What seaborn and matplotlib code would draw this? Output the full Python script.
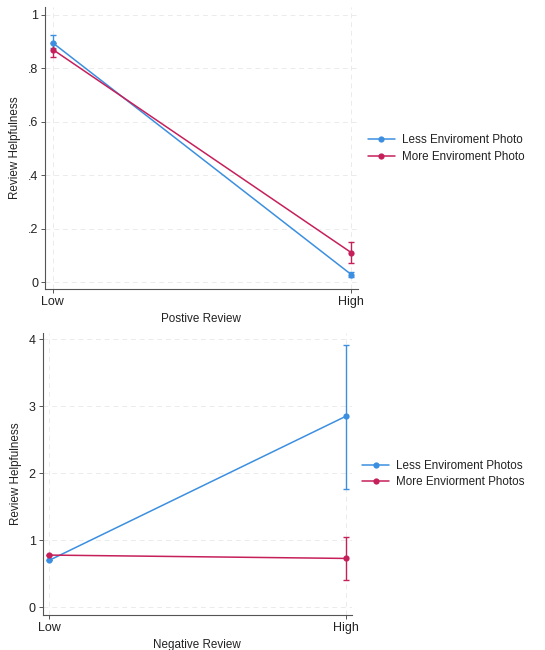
import matplotlib
matplotlib.use("Agg")
import matplotlib.pyplot as plt
import seaborn as sns
import pandas as pd
import numpy as np

# ---- data ----
levels = ["Low", "High"]
top_groups = ["Less Enviroment Photo", "More Enviroment Photo"]
top_less = [0.895, 0.028]
top_less_lo = [0.875, 0.020]
top_less_hi = [0.924, 0.036]
top_more = [0.870, 0.110]
top_more_lo = [0.842, 0.070]
top_more_hi = [0.895, 0.150]

bot_groups = ["Less Enviroment Photos", "More Enviorment Photos"]
bot_less = [0.70, 2.85]
bot_less_lo = [0.70, 1.77]
bot_less_hi = [0.70, 3.92]
bot_more = [0.78, 0.73]
bot_more_lo = [0.78, 0.41]
bot_more_hi = [0.78, 1.05]

top_yticks = [0, 0.2, 0.4, 0.6, 0.8, 1.0]
top_yticklabels = ["0", ".2", ".4", ".6", ".8", "1"]
bot_yticks = [0, 1, 2, 3, 4]
bot_yticklabels = ["0", "1", "2", "3", "4"]

BLUE = "#3c8fe0"
RED = "#c6205b"

sns.set_theme(style="white")
plt.rcParams['font.family'] = ['Liberation Sans', 'DejaVu Sans']

fig = plt.figure(figsize=(5.45, 6.5), dpi=100)
ax1 = fig.add_axes([0.0826, 0.5554, 0.574, 0.4338])
ax2 = fig.add_axes([0.078, 0.0543, 0.567, 0.4329])

TICK_FS = 9.0
LAB_FS = 8.4


def draw(ax, groups, series, los, his, yticks, yticklabels, ylim, xlim, xlabel, legend_anchor):
    xs = np.arange(len(levels))
    rows = []
    for g, vals in zip(groups, series):
        for x, v in zip(xs, vals):
            rows.append({"x": x, "y": v, "group": g})
    df = pd.DataFrame(rows)
    sns.lineplot(data=df, x="x", y="y", hue="group", palette=[BLUE, RED],
                 marker="o", markersize=4.5, markeredgewidth=0, linewidth=1.1,
                 ax=ax, legend=True, errorbar=None)
    for col, vals, lo, hi in zip([BLUE, RED], series, los, his):
        v = np.array(vals); l = np.array(lo); h = np.array(hi)
        ax.errorbar(xs, v, yerr=[v - l, h - v], fmt="none", ecolor=col,
                    elinewidth=1.0, capsize=2, capthick=1.0, zorder=1.5)
    ax.set_xlim(*xlim)
    ax.set_ylim(*ylim)
    ax.set_xticks(xs)
    ax.set_xticklabels(levels)
    ax.set_yticks(yticks)
    ax.set_yticklabels(yticklabels)
    ax.grid(True, axis="both", linestyle=(0, (5, 4)), color="#ebebeb", linewidth=0.7)
    ax.set_axisbelow(True)
    for s in ["top", "right"]:
        ax.spines[s].set_visible(False)
    for s in ["left", "bottom"]:
        ax.spines[s].set_color("#555555")
        ax.spines[s].set_linewidth(0.8)
    ax.tick_params(axis="both", which="both", direction="out", length=3, width=0.7,
                   color="#555555", labelsize=TICK_FS, labelcolor="#222222", pad=2,
                   left=True, bottom=True)
    ax.set_xlabel(xlabel, fontsize=LAB_FS, color="#222222", labelpad=4)
    ax.set_ylabel("Review Helpfulness", fontsize=LAB_FS, color="#222222", labelpad=5)
    handles, labels = ax.get_legend_handles_labels()
    ax.legend(handles, labels, loc="center left", bbox_to_anchor=legend_anchor,
              bbox_transform=fig.transFigure, frameon=False, fontsize=LAB_FS,
              handlelength=2.3, handletextpad=0.6, labelspacing=0.4,
              borderaxespad=0, borderpad=0)
    for t in ax.get_legend().get_texts():
        t.set_color("#222222")


draw(ax1, top_groups, [top_less, top_more], [top_less_lo, top_more_lo],
     [top_less_hi, top_more_hi], top_yticks, top_yticklabels,
     (-0.026, 1.029), (-0.026, 1.022), "Postive Review", (0.675, 1 - 148.5 / 650))
draw(ax2, bot_groups, [bot_less, bot_more], [bot_less_lo, bot_more_lo],
     [bot_less_hi, bot_more_hi], bot_yticks, bot_yticklabels,
     (-0.11, 4.09), (-0.022, 1.020), "Negative Review", (0.665, 1 - 474 / 650))

fig.savefig("out.png", dpi=100, facecolor="white")
